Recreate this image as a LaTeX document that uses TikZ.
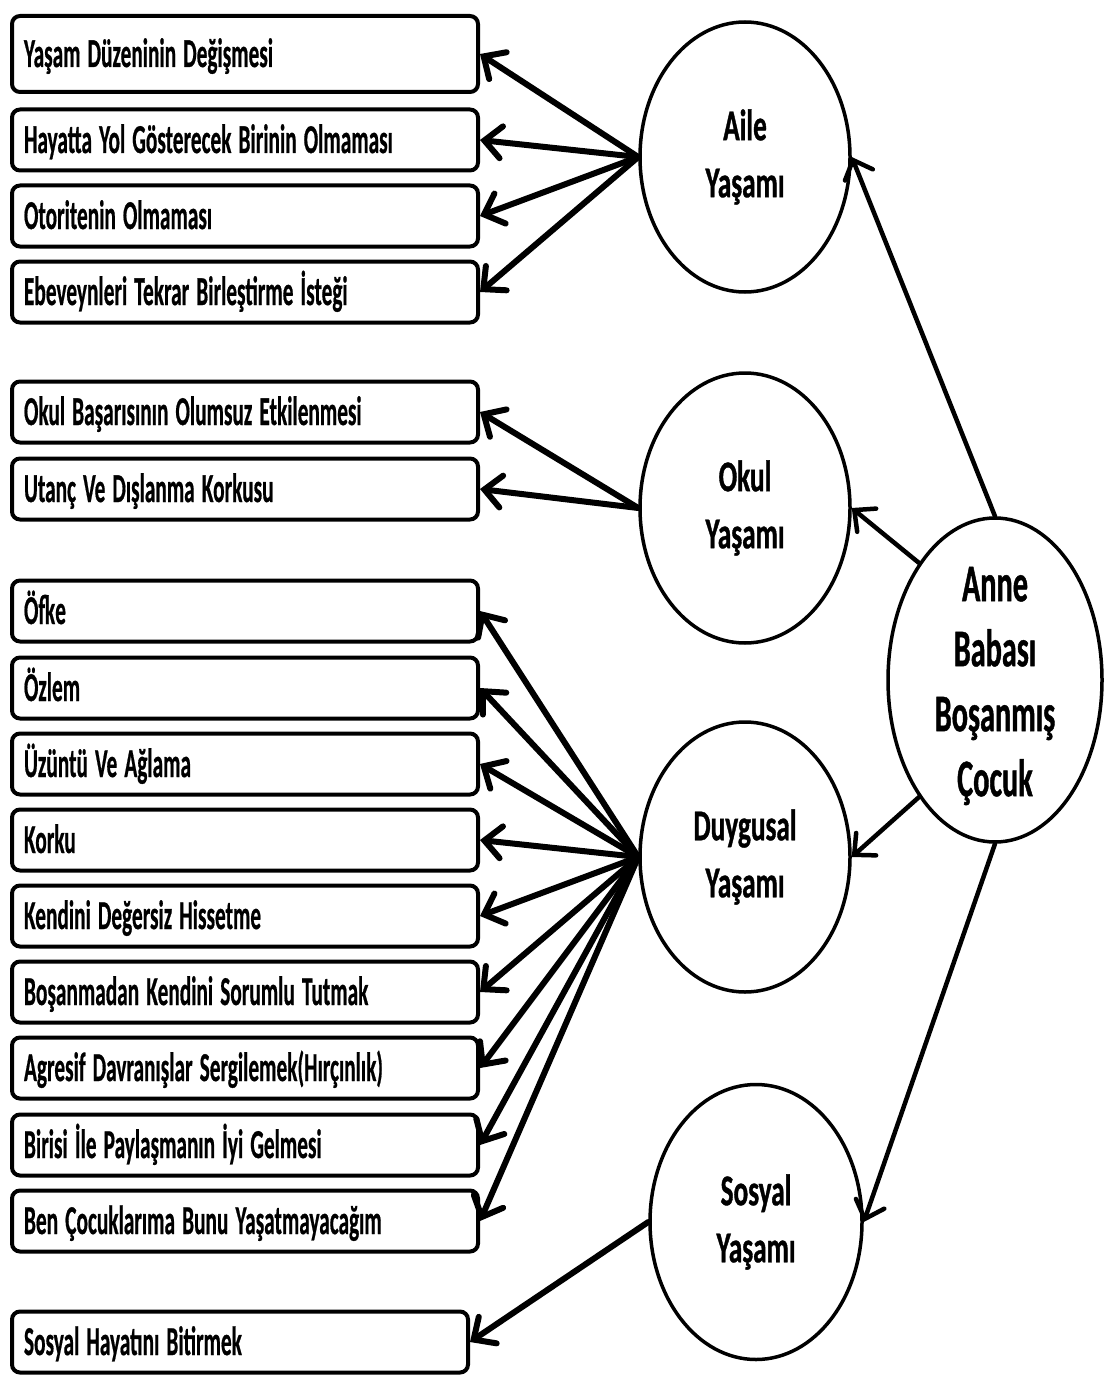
\documentclass[tikz,border=0pt]{standalone}
\usepackage{fontspec}
\usepackage{graphicx}
\setmainfont{Carlito}
\newfontfamily\boxfont{Carlito}[FakeBold=0.8]
\newfontfamily\ellfont{Carlito}[FakeStretch=0.62, FakeBold=0.8]
\newfontfamily\annefont{Carlito}[FakeStretch=0.57, FakeBold=0.8]
\newcommand\sqz[1]{\scalebox{0.52}[1]{#1}}
\usetikzlibrary{arrows.meta,shapes.geometric}
\begin{document}
\begin{tikzpicture}[x=1pt,y=-1pt,
  itembox/.style={draw, line width=4pt, rounded corners=8pt, minimum height=61pt,
    text width=442pt, inner xsep=12pt, inner ysep=0pt, align=left, anchor=west,
    text height=31pt, text depth=5pt, font=\boxfont\bfseries\fontsize{41}{45}\selectfont},
  bubble/.style={draw, ellipse, line width=3.5pt, minimum width=210pt, minimum height=270pt,
    inner sep=0pt, align=center, font=\ellfont\bfseries\fontsize{44}{57}\selectfont},
  link/.style={line width=6pt, line cap=round,
    -{Straight Barb[length=17pt,width=32pt,line cap=round]}},
  mainlink/.style={line width=4.5pt, line cap=round,
    -{Straight Barb[length=16pt,width=30pt,line cap=round]}}
]
\useasboundingbox (0,0) rectangle (1104,1375);

% boxes
\node[itembox, minimum height=76pt] (b1) at (10,54) {\sqz{Yaşam Düzeninin Değişmesi}};
\node[itembox] (b2) at (10,140) {\sqz{Hayatta Yol Gösterecek Birinin Olmaması}};
\node[itembox] (b3) at (10,216) {\sqz{Otoritenin Olmaması}};
\node[itembox] (b4) at (10,292) {\sqz{Ebeveynleri Tekrar Birleştirme İsteği}};
\node[itembox] (b5) at (10,412) {\sqz{Okul Başarısının Olumsuz Etkilenmesi}};
\node[itembox] (b6) at (10,489) {\sqz{Utanç Ve Dışlanma Korkusu}};
\node[itembox] (b7) at (10,611) {\sqz{Öfke}};
\node[itembox] (b8) at (10,688) {\sqz{Özlem}};
\node[itembox] (b9) at (10,764) {\sqz{Üzüntü Ve Ağlama}};
\node[itembox] (b10) at (10,840) {\sqz{Korku}};
\node[itembox] (b11) at (10,916) {\sqz{Kendini Değersiz Hissetme}};
\node[itembox] (b12) at (10,992) {\sqz{Boşanmadan Kendini Sorumlu Tutmak}};
\node[itembox] (b13) at (10,1068) {\sqz{Agresif Davranışlar Sergilemek(Hırçınlık)}};
\node[itembox] (b14) at (10,1145) {\sqz{Birisi İle Paylaşmanın İyi Gelmesi}};
\node[itembox] (b15) at (10,1221) {\sqz{Ben Çocuklarıma Bunu Yaşatmayacağım}};
\node[itembox, text width=432pt] (b16) at (10,1342) {\sqz{Sosyal Hayatını Bitirmek}};

% ellipses
\node[bubble] (aile) at (745,157) {Aile\\Yaşamı};
\node[bubble] (okul) at (745,508) {Okul\\Yaşamı};
\node[bubble] (duygu) at (745,857) {Duygusal\\Yaşamı};
\node[bubble, minimum width=212pt, minimum height=275pt] (sosyal) at (756,1222) {Sosyal\\Yaşamı};
\node[bubble, minimum width=214pt, minimum height=324pt] (anne) at (995,680) {};
\node[align=center, inner sep=0pt, yshift=-6pt, font=\annefont\bfseries\fontsize{53}{65}\selectfont]
  (annetxt) at (anne.center) {Anne\\Babası\\Boşanmış\\Çocuk};

% connectors
\foreach \b in {b1,b2,b3,b4} \draw[link] (aile.west) -- (\b.east);
\foreach \b in {b5,b6} \draw[link] (okul.west) -- (\b.east);
\foreach \b in {b7,b8,b9,b10,b11,b12,b13,b14,b15} \draw[link] (duygu.west) -- (\b.east);
\draw[link] (sosyal.west) -- (b16.east);

\draw[mainlink] (anne.north) -- (aile.east);
\draw[mainlink] (anne.123) -- (okul.east);
\draw[mainlink] (anne.237) -- (duygu.east);
\draw[mainlink] (anne.south) -- (sosyal.east);
\end{tikzpicture}
\end{document}
